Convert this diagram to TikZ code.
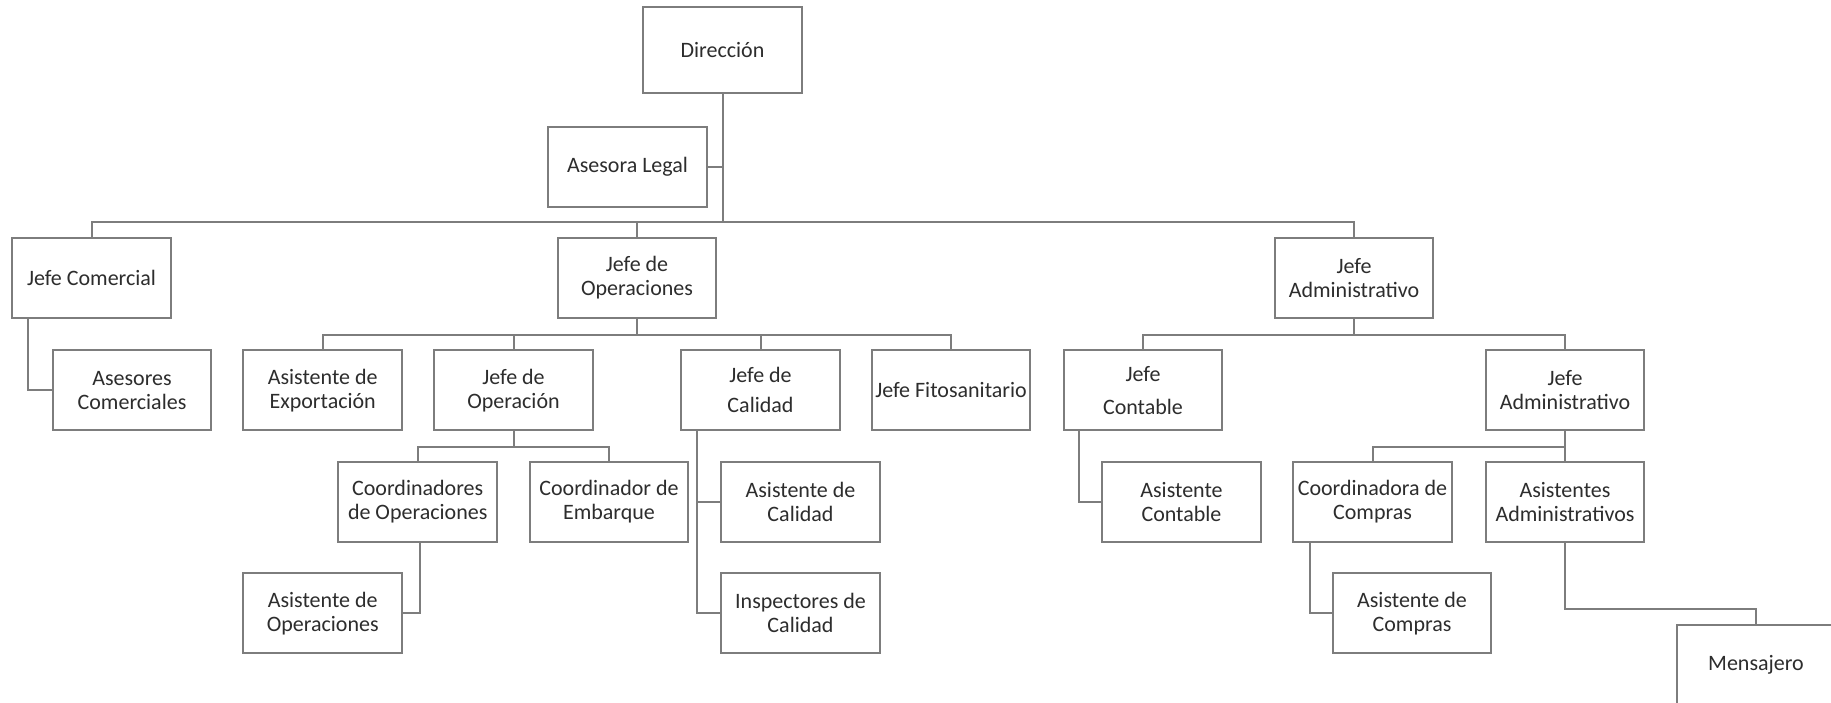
\documentclass[tikz,border=0pt]{standalone}
\usepackage{fontspec}
\setmainfont{Carlito}
\definecolor{linegray}{RGB}{125,125,125}
\definecolor{textgray}{RGB}{45,45,45}
\tikzset{
  orgbox/.style={draw=linegray, line width=2pt, fill=white, rectangle,
    minimum width=158.5pt, minimum height=80pt, inner sep=0pt, align=center,
    text=textgray, font=\fontsize{22}{24}\selectfont},
  link/.style={draw=linegray, line width=2pt}
}
\begin{document}
\begin{tikzpicture}[x=1pt,y=-1pt]
\useasboundingbox (0,0) rectangle (1831,703);
\clip (0,0) rectangle (1831,703);
\fill[white] (0,0) rectangle (1831,703);
% nodes
\node[orgbox, minimum height=86pt] (dir) at (722.5,50) {Dirección};
\node[orgbox] (legal) at (627.5,167) {Asesora Legal};
\node[orgbox] (jcom) at (91.5,278) {Jefe Comercial};
\node[orgbox] (jops) at (637,278) {Jefe de\\Operaciones};
\node[orgbox] (jadm) at (1354,278) {Jefe\\Administrativo};
\node[orgbox] (ascom) at (132,390.3) {Asesores\\Comerciales};
\node[orgbox] (asexp) at (322.7,390.3) {Asistente de\\Exportación};
\node[orgbox] (jopn) at (513.5,390.3) {Jefe de\\Operación};
\node[orgbox] (jcal) at (760.5,390.3) {Jefe de\\[6pt]Calidad};
\node[orgbox] (jfito) at (951,390.3) {Jefe Fitosanitario};
\node[orgbox] (jcont) at (1143,390.3) {Jefe\\[9pt]Contable};
\node[orgbox] (jadm2) at (1565,390.3) {Jefe\\Administrativo};
\node[orgbox] (coops) at (417.7,502) {Coordinadores\\de Operaciones};
\node[orgbox] (coemb) at (609,502) {Coordinador de\\Embarque};
\node[orgbox] (ascal) at (800.5,502) {Asistente de\\Calidad};
\node[orgbox] (ascont) at (1181.5,502) {Asistente\\Contable};
\node[orgbox] (cocomp) at (1372.5,502) {Coordinadora de\\Compras};
\node[orgbox] (asadm) at (1565,502) {Asistentes\\Administrativos};
\node[orgbox] (asops) at (322.7,613.3) {Asistente de\\Operaciones};
\node[orgbox] (insp) at (800.5,613.3) {Inspectores de\\Calidad};
\node[orgbox] (ascomp) at (1412,613.3) {Asistente de\\Compras};
\node[orgbox] (mens) at (1756,665) {Mensajero};
% top level
\coordinate (b1) at (722.5,221.7);
\draw[link] (dir.south) -- (b1);
\draw[link] (legal.east) -- (legal.east -| dir.south);
\draw[link] (jcom.north) |- (b1) -| (jadm.north);
\draw[link] (jops.north) -- (jops.north |- b1);
% operaciones
\draw[link] (jops.south) -- ++(0,16) coordinate (b2);
\draw[link] (asexp.north) |- (b2) -| (jfito.north);
\draw[link] (jopn.north) -- (jopn.north |- b2);
\draw[link] (jcal.north) -- (jcal.north |- b2);
% administrativo
\draw[link] (jadm.south) -- ++(0,16) coordinate (b3);
\draw[link] (jcont.north) |- (b3) -| (jadm2.north);
% comercial
\draw[link] ([xshift=17pt]jcom.south west) |- (ascom.west);
% operacion
\draw[link] (jopn.south) -- ++(0,16) coordinate (b4);
\draw[link] (coops.north) |- (b4) -| (coemb.north);
\draw[link] ([xshift=1.8pt]coops.south) |- (asops.east);
% calidad
\draw[link] ([xshift=17pt]jcal.south west) |- (insp.west);
\draw[link] ([xshift=17pt]jcal.south west) |- (ascal.west);
% contable
\draw[link] ([xshift=16pt]jcont.south west) |- (ascont.west);
% administrativo 2
\draw[link] (jadm2.south) -- (asadm.north);
\draw[link] (jadm2.south) -- ++(0,16) coordinate (b6);
\draw[link] (cocomp.north) |- (b6);
\draw[link] ([xshift=17.5pt]cocomp.south west) |- (ascomp.west);
\coordinate (b5) at (1565,609);
\draw[link] (asadm.south) -- (b5) -| (mens.north);
\end{tikzpicture}
\end{document}
